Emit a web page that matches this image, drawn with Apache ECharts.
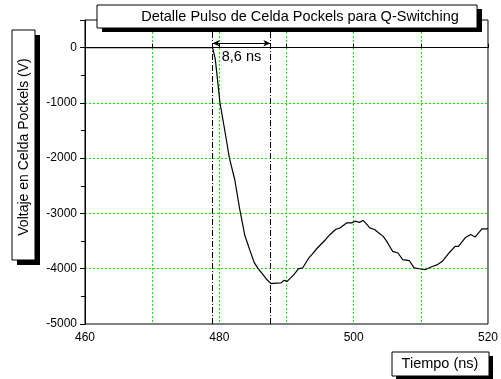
<!DOCTYPE html>
<html>
<head>
<meta charset="utf-8">
<style>
  html, body { margin: 0; padding: 0; background: #fff; }
  #chart { width: 501px; height: 379px; }
</style>
<script src="https://cdn.jsdelivr.net/npm/echarts@6/dist/echarts.min.js"></script>
</head>
<body>
<div id="chart"></div>
<script>
// tiempo (ns) y voltaje (V)
var tiempo = [460, 479.0, 479.4, 480.1, 480.8, 481.5, 482.3, 483.0, 483.8, 484.5, 485.2, 485.7, 486.5, 487.1, 487.7,
  488.4, 489.2, 489.6, 490.1, 491.1, 491.8, 492.4, 493.3, 493.8, 494.6, 495.8, 496.5, 497.3, 498.0, 499.0,
  499.7, 500.2, 500.9, 501.4, 501.9, 502.4, 503.1, 503.7, 504.4, 504.9, 505.8, 506.6, 507.3, 508.3, 509.0,
  510.0, 510.7, 511.7, 512.5, 513.2, 514.2, 515.1, 515.6, 516.6, 517.4, 518.1, 519.1, 520];
var voltaje = [0, 0, -212, -1000, -1490, -2000, -2390, -2900, -3400, -3650, -3890, -3985, -4105, -4200, -4270,
  -4262, -4257, -4210, -4228, -4107, -4000, -3986, -3810, -3740, -3625, -3475, -3380, -3290, -3260, -3170,
  -3170, -3140, -3160, -3125, -3190, -3260, -3290, -3350, -3415, -3500, -3685, -3715, -3835, -3855, -3985,
  -4005, -4015, -3960, -3925, -3865, -3715, -3595, -3595, -3440, -3380, -3425, -3280, -3280];

// marcas del ancho del pulso
var pulsoInicio = 479.0;
var pulsoFin = 487.6;
var textoPulso = '8,6 ns';

var titulo = 'Detalle Pulso de Celda Pockels para Q-Switching';
var nombreY = 'Voltaje en Celda Pockels (V)';
var nombreX = 'Tiempo (ns)';

var fuente = '"Liberation Sans", Arial, sans-serif';

var serie = tiempo.map(function (t, i) { return [t, voltaje[i]]; });

var myChart = echarts.init(document.getElementById('chart'));

var gridDot = { color: '#00ee00', type: [2, 2], width: 1 };
var dashDot = { color: '#000', type: [6, 2, 1, 2], width: 1 };

var option = {
  animation: false,
  textStyle: { fontFamily: fuente },
  grid: { left: 85, right: 8, top: 20, bottom: 55, show: true, borderColor: '#000', borderWidth: 1 },
  xAxis: {
    type: 'value', min: 460, max: 520, interval: 10,
    axisLine: { lineStyle: { color: '#000' } },
    axisTick: { inside: true, length: 4, lineStyle: { color: '#000' } },
    axisLabel: {
      color: '#000', fontSize: 12, margin: 8, fontFamily: fuente,
      formatter: function (v) { return v % 20 === 0 ? String(v) : ''; }
    },
    splitLine: { show: true, showMinLine: false, showMaxLine: false, lineStyle: gridDot }
  },
  yAxis: {
    type: 'value', min: -5000, max: 500, interval: 1000,
    axisLine: { show: true, lineStyle: { color: '#000' } },
    axisTick: { show: true, length: 5, lineStyle: { color: '#000' } },
    minorTick: { show: true, splitNumber: 2, length: 4, lineStyle: { color: '#000' } },
    axisLabel: {
      color: '#000', fontSize: 12, margin: 8, fontFamily: fuente,
      formatter: function (v) { return v > 0 ? '' : String(v); }
    },
    splitLine: { show: true, showMinLine: false, showMaxLine: false, lineStyle: gridDot }
  },
  series: [
    {
      type: 'line', data: serie, showSymbol: false, symbol: 'none',
      lineStyle: { color: '#000', width: 1.2 }, z: 5
    },
    {
      type: 'line', data: [], symbol: 'none',
      markLine: {
        silent: true, symbol: ['none', 'none'],
        label: { show: false },
        data: [
          { xAxis: pulsoInicio, lineStyle: dashDot },
          { xAxis: pulsoFin, lineStyle: dashDot },
          [
            { coord: [pulsoInicio, 80], symbol: 'arrow', symbolSize: [5, 7], lineStyle: { color: '#000', type: 'solid', width: 1 } },
            { coord: [pulsoFin, 80], symbol: 'arrow', symbolSize: [5, 7] }
          ]
        ]
      },
      markPoint: {
        silent: true, symbol: 'circle', symbolSize: 0,
        data: [{
          coord: [(pulsoInicio + pulsoFin) / 2, -175],
          label: { show: true, formatter: textoPulso, color: '#000', fontSize: 14.5, fontFamily: fuente }
        }]
      }
    }
  ],
  graphic: [
    // caja del titulo con sombra
    { type: 'rect', shape: { x: 102, y: 9, width: 380, height: 23 }, style: { fill: '#000' }, z: 10 },
    { type: 'rect', shape: { x: 97, y: 5, width: 380, height: 23 }, style: { fill: '#fff', stroke: '#000', lineWidth: 1 }, z: 11 },
    { type: 'text', x: 300, y: 16.5, style: { text: titulo, font: '14.5px ' + fuente, fill: '#000', textAlign: 'center', textVerticalAlign: 'middle' }, z: 12 },
    // caja del eje Y
    { type: 'rect', shape: { x: 17, y: 35, width: 23, height: 230 }, style: { fill: '#000' }, z: 10 },
    { type: 'rect', shape: { x: 12, y: 30, width: 23, height: 230 }, style: { fill: '#fff', stroke: '#000', lineWidth: 1 }, z: 11 },
    { type: 'text', x: 24, y: 147, rotation: Math.PI / 2, style: { text: nombreY, font: '14px ' + fuente, fill: '#000', textAlign: 'center', textVerticalAlign: 'middle' }, z: 12 },
    // caja del eje X
    { type: 'rect', shape: { x: 396, y: 356, width: 97, height: 24 }, style: { fill: '#000' }, z: 10 },
    { type: 'rect', shape: { x: 392, y: 352, width: 97, height: 24 }, style: { fill: '#fff', stroke: '#000', lineWidth: 1 }, z: 11 },
    { type: 'text', x: 440, y: 364, style: { text: nombreX, font: '14.5px ' + fuente, fill: '#000', textAlign: 'center', textVerticalAlign: 'middle' }, z: 12 }
  ]
};

myChart.setOption(option);
</script>
</body>
</html>
